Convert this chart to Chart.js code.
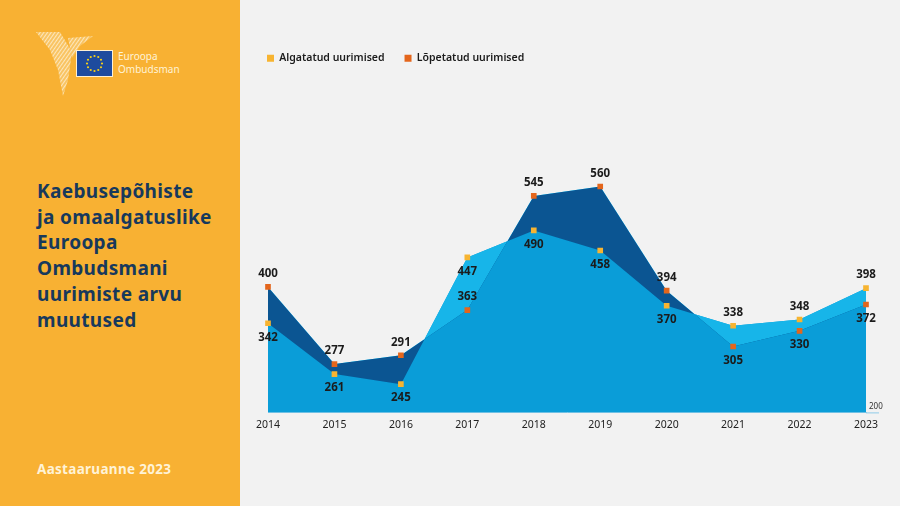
<!DOCTYPE html>
<html lang="et">
<head>
    <meta charset="UTF-8">
    <title>Kaebusepõhiste ja omaalgatuslike Euroopa Ombudsmani uurimiste arvu muutused</title>
    <style>
        html, body {
            margin: 0;
            padding: 0;
            width: 900px;
            height: 506px;
            overflow: hidden;
            background-color: #f2f2f2;
            font-family: "Noto Sans", "Open Sans", sans-serif;
        }
        #side {
            position: absolute;
            left: 0;
            top: 0;
            width: 240px;
            height: 506px;
            background-color: #f8b133;
        }
        #logo {
            position: absolute;
            left: 0;
            top: 0;
        }
        #logo-text {
            position: absolute;
            left: 118px;
            top: 50px;
            font-size: 10px;
            line-height: 13px;
            color: #fff3d6;
        }
        #title {
            position: absolute;
            left: 37px;
            top: 179px;
            margin: 0;
            font-size: 19px;
            line-height: 25.7px;
            letter-spacing: 0.35px;
            font-weight: bold;
            color: #17395c;
        }
        #report {
            position: absolute;
            left: 37px;
            top: 460px;
            font-size: 13.5px;
            letter-spacing: 0.3px;
            font-weight: bold;
            color: #fff3d6;
        }
        #chart-box {
            position: absolute;
            left: 240px;
            top: 0;
            width: 660px;
            height: 506px;
        }
    </style>
</head>
<body>
    <div id="side">
        <svg id="logo" width="240" height="110">
            <defs>
                <pattern id="hatch" width="3" height="3" patternUnits="userSpaceOnUse" patternTransform="rotate(35)">
                    <rect width="3" height="3" fill="#f9c463"></rect>
                    <line x1="0" y1="0" x2="0" y2="3" stroke="#fdf0d4" stroke-width="1.6"></line>
                </pattern>
            </defs>
            <polygon points="36,32 60,32 72,52 68,80 63,96 58,70 50,50" fill="url(#hatch)"></polygon>
            <polygon points="68,38 93,36 80,46 76,52 72,58" fill="url(#hatch)"></polygon>
            <rect x="76.5" y="50.5" width="36" height="26" fill="#1e4b9e" stroke="#fdf0d4" stroke-width="1"></rect>
            <g fill="#f7d117" id="stars"></g>
        </svg>
        <div id="logo-text">Euroopa<br>Ombudsman</div>
        <h1 id="title">Kaebusepõhiste<br>ja omaalgatuslike<br>Euroopa<br>Ombudsmani<br>uurimiste arvu<br>muutused</h1>
        <div id="report">Aastaaruanne 2023</div>
    </div>

    <div id="chart-box">
        <canvas id="chart"></canvas>
    </div>

    <script src="https://cdn.jsdelivr.net/npm/chart.js"></script>
    <script>
        // andmed
        const years = ['2014', '2015', '2016', '2017', '2018', '2019', '2020', '2021', '2022', '2023'];
        const started = [342, 261, 245, 447, 490, 458, 370, 338, 348, 398];
        const closed = [400, 277, 291, 363, 545, 560, 394, 305, 330, 372];
        const seriesNames = ['Algatatud uurimised', 'Lõpetatud uurimised'];
        const axisMinLabel = '200';

        // siltide asukoht punkti suhtes
        const startedLabelSide = ['below', 'below', 'below', 'below', 'below', 'below', 'below', 'above', 'above', 'above'];
        const closedLabelSide = ['above', 'above', 'above', 'above', 'above', 'above', 'above', 'below', 'below', 'below'];

        // EL lipu tähed
        const stars = document.getElementById('stars');
        for (let i = 0; i < 12; i++) {
            const a = i * Math.PI / 6;
            const c = document.createElementNS('http://www.w3.org/2000/svg', 'circle');
            c.setAttribute('cx', 94.5 + Math.cos(a) * 7.5);
            c.setAttribute('cy', 63.5 + Math.sin(a) * 7.5);
            c.setAttribute('r', 1.1);
            stars.appendChild(c);
        }

        const yellow = '#f7b431';
        const orange = '#e4661c';
        const midBlue = '#0a9dd8';
        const navy = '#0b5592';
        const cyan = '#17b5e9';

        // legend joondub graafiku vasaku servaga
        const legendShift = {
            id: 'legendShift',
            afterLayout(chart) {
                const lg = chart.legend;
                if (lg) {
                    lg.left -= 21;
                    lg.right -= 21;
                }
            }
        };

        // väärtuste sildid
        const valueLabels = {
            id: 'valueLabels',
            afterDatasetsDraw(chart) {
                const ctx = chart.ctx;
                ctx.save();
                ctx.font = 'bold 11.5px "Noto Sans", sans-serif';
                ctx.fillStyle = '#1b1b1b';
                ctx.textAlign = 'center';
                ctx.textBaseline = 'middle';
                [[0, startedLabelSide], [1, closedLabelSide]].forEach(([di, sides]) => {
                    const meta = chart.getDatasetMeta(di);
                    meta.data.forEach((pt, i) => {
                        const dy = sides[i] === 'above' ? -13 : 14;
                        ctx.fillText(chart.data.datasets[di].data[i], pt.x, pt.y + dy);
                    });
                });
                // telje alumine väärtus paremal
                const y = chart.scales.y.getPixelForValue(200);
                const x = chart.chartArea.right;
                ctx.strokeStyle = '#8fcbe8';
                ctx.lineWidth = 1;
                ctx.beginPath();
                ctx.moveTo(x, y + 0.5);
                ctx.lineTo(x + 13, y + 0.5);
                ctx.stroke();
                ctx.font = '8px "Noto Sans", sans-serif';
                ctx.textAlign = 'left';
                ctx.fillStyle = '#333';
                ctx.fillText(axisMinLabel, x + 3, y - 6);
                ctx.restore();
            }
        };

        const ctx = document.getElementById('chart').getContext('2d');
        new Chart(ctx, {
            type: 'line',
            data: {
                labels: years,
                datasets: [
                    {
                        label: seriesNames[0],
                        data: started,
                        borderWidth: 0,
                        pointStyle: 'rect',
                        pointRadius: 4,
                        pointBackgroundColor: yellow,
                        pointBorderWidth: 0,
                        fill: { target: 1, above: cyan, below: navy }
                    },
                    {
                        label: seriesNames[1],
                        data: closed,
                        borderWidth: 0,
                        pointStyle: 'rect',
                        pointRadius: 4,
                        pointBackgroundColor: orange,
                        pointBorderWidth: 0,
                        fill: false
                    },
                    {
                        label: 'base1',
                        data: started,
                        borderWidth: 0,
                        pointRadius: 0,
                        backgroundColor: midBlue,
                        fill: 'start'
                    },
                    {
                        label: 'base2',
                        data: closed,
                        borderWidth: 0,
                        pointRadius: 0,
                        backgroundColor: midBlue,
                        fill: 'start'
                    }
                ]
            },
            options: {
                responsive: true,
                maintainAspectRatio: false,
                animation: false,
                events: [],
                layout: {
                    padding: { left: 28, right: 34, top: 33, bottom: 69 }
                },
                elements: { line: { tension: 0 } },
                scales: {
                    x: {
                        offset: false,
                        grid: { display: false, drawTicks: false },
                        border: { display: true, color: '#8fcbe8', width: 1 },
                        ticks: {
                            padding: 6,
                            color: '#222',
                            font: { family: '"Noto Sans", sans-serif', size: 10.5 }
                        }
                    },
                    y: {
                        display: false,
                        min: 200,
                        max: 740
                    }
                },
                plugins: {
                    filler: { drawTime: 'beforeDatasetsDraw' },
                    tooltip: { enabled: false },
                    legend: {
                        position: 'top',
                        align: 'start',
                        fullSize: false,
                        labels: {
                            usePointStyle: true,
                            pointStyle: 'rect',
                            boxWidth: 7,
                            boxHeight: 7,
                            padding: 20,
                            color: '#1b1b1b',
                            font: { family: '"Noto Sans", sans-serif', size: 10.5, weight: '600' },
                            filter: (item) => item.datasetIndex < 2
                        }
                    }
                }
            },
            plugins: [legendShift, valueLabels]
        });
    </script>
</body>
</html>
